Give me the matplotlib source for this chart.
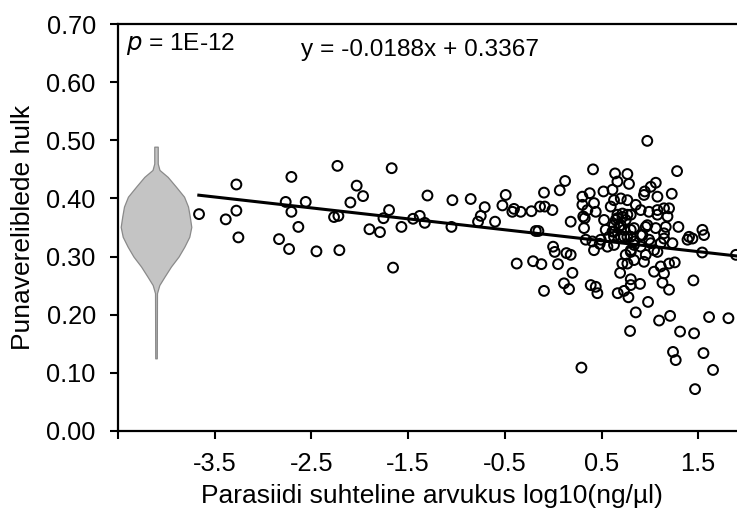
import matplotlib
matplotlib.use("Agg")
import matplotlib.pyplot as plt
import numpy as np

plt.rcParams['font.family'] = ['Liberation Sans', 'DejaVu Sans']

# ---- scatter data ----
x_vals = [-3.662, -3.386, -3.276, -3.276, -3.255, -2.835, -2.766, -2.707, -2.707, -2.731,
          -2.635, -2.559, -2.448, -2.266, -2.221, -2.231, -2.211, -2.097, -2.032, -1.966,
          -1.900, -1.791, -1.755, -1.697, -1.670, -1.656, -1.569, -1.449, -1.380, -1.328,
          -1.300, -1.052, -1.042, -0.853, -0.777, -0.749, -0.708, -0.601, -0.525, -0.491,
          -0.422, -0.405, -0.336, -0.225, -0.180, -0.153, -0.136, -0.095, -0.087, -0.008,
          0.068, 0.123, 0.181, -0.001, 0.016, 0.137, 0.181, -0.377, -0.208, -0.122,
          0.050, 0.199, 0.112, 0.164, -0.095, 0.388, 0.440, 0.457, 0.292, 0.667,
          0.733, 0.778, 0.802, 0.898, 0.854, 0.795, 0.981, 1.095, 1.209, 1.130,
          1.198, 1.450, 1.312, 1.457, 1.239, 1.267, 1.554, 1.653, 1.467, 1.612,
          1.812, 0.692, 0.802, 0.715, 0.767, 0.836, 0.939, 1.043, 1.112, 1.198,
          1.257, 1.146, 1.541, 1.890, 1.389, 1.440, 1.560, 0.905, 1.009, 1.078,
          0.957, 0.422, 0.337, 0.561, 0.629, 0.836, 0.750, 0.802, 1.233, 1.146,
          0.973, 0.412, 0.640, 0.767, 0.664, 0.784, 1.281, 0.378, 0.520, 0.613,
          1.061, 1.009, 0.947, 1.078, 1.226, 0.302, 0.422, 0.629, 0.699, 0.767,
          0.595, 0.854, 0.939, 1.146, 1.198, 0.354, 0.440, 0.326, 0.526, 0.664,
          0.716, 0.750, 0.802, 0.905, 0.991, 1.078, 1.182, 0.319, 0.543, 0.629,
          0.836, 0.974, 1.060, 1.164, 1.295, 1.405, 1.543, 0.699, 0.905, 0.406,
          0.481, 0.302, 0.664, 0.699, 0.767, 0.629, 0.733, 0.836, 0.802, 0.991,
          1.043, 1.112, 1.146, 0.957, 1.078, 0.311, 0.647, 0.681, 0.733, 0.613,
          0.578, 0.767, 0.802, 0.716, 0.802, 0.923, 0.492, 0.629]
y_vals = [0.373, 0.364, 0.424, 0.379, 0.333, 0.330, 0.394, 0.437, 0.377, 0.313,
          0.351, 0.394, 0.309, 0.368, 0.370, 0.456, 0.311, 0.393, 0.422, 0.404,
          0.347, 0.342, 0.366, 0.380, 0.452, 0.281, 0.351, 0.365, 0.370, 0.358,
          0.405, 0.351, 0.397, 0.399, 0.360, 0.370, 0.385, 0.360, 0.388, 0.406,
          0.377, 0.382, 0.377, 0.378, 0.344, 0.344, 0.386, 0.410, 0.386, 0.380,
          0.414, 0.430, 0.360, 0.317, 0.308, 0.306, 0.303, 0.288, 0.292, 0.287,
          0.287, 0.272, 0.254, 0.244, 0.241, 0.251, 0.248, 0.237, 0.109, 0.237,
          0.241, 0.230, 0.251, 0.253, 0.204, 0.172, 0.222, 0.190, 0.198, 0.255,
          0.243, 0.259, 0.171, 0.168, 0.136, 0.122, 0.134, 0.105, 0.072, 0.196,
          0.194, 0.272, 0.261, 0.288, 0.288, 0.294, 0.291, 0.274, 0.283, 0.288,
          0.290, 0.271, 0.307, 0.303, 0.329, 0.331, 0.337, 0.317, 0.323, 0.308,
          0.303, 0.311, 0.329, 0.317, 0.334, 0.320, 0.303, 0.308, 0.323, 0.331,
          0.499, 0.450, 0.443, 0.442, 0.429, 0.425, 0.447, 0.409, 0.412, 0.415,
          0.427, 0.420, 0.412, 0.403, 0.408, 0.389, 0.392, 0.397, 0.400, 0.397,
          0.386, 0.389, 0.406, 0.383, 0.383, 0.380, 0.377, 0.366, 0.363, 0.372,
          0.368, 0.363, 0.372, 0.380, 0.377, 0.372, 0.369, 0.349, 0.346, 0.354,
          0.349, 0.354, 0.349, 0.351, 0.351, 0.334, 0.346, 0.334, 0.337, 0.326,
          0.322, 0.403, 0.366, 0.354, 0.372, 0.343, 0.334, 0.326, 0.311, 0.329,
          0.311, 0.323, 0.340, 0.351, 0.380, 0.369, 0.363, 0.351, 0.346, 0.343,
          0.334, 0.334, 0.346, 0.374, 0.334, 0.337, 0.329, 0.320]

# ---- regression line ----
slope = -0.0188
intercept = 0.3367
line_x = [-3.68, 2.0]

# ---- violin profile (control group) ----
violin_center = -4.107
violin_y = [0.125, 0.237, 0.251, 0.265, 0.283, 0.300, 0.317, 0.334, 0.351,
            0.369, 0.386, 0.403, 0.420, 0.437, 0.449, 0.460, 0.489]
violin_hw = [0.008, 0.010, 0.034, 0.086, 0.155, 0.233, 0.293, 0.344, 0.365,
             0.349, 0.331, 0.290, 0.207, 0.121, 0.036, 0.018, 0.018]

x_ticks = [-4.5, -3.5, -2.5, -1.5, -0.5, 0.5, 1.5]
x_ticklabels = ['', '-3.5', '-2.5', '-1.5', '-0.5', '0.5', '1.5']
y_ticks = [0.0, 0.1, 0.2, 0.3, 0.4, 0.5, 0.6, 0.7]

W, H = 737, 513
fig = plt.figure(figsize=(W / 100, H / 100), dpi=100)
left_px, right_px, top_px, bottom_px = 118, 746.6, 24, 431
ax = fig.add_axes([left_px / W, (H - bottom_px) / H,
                   (right_px - left_px) / W, (bottom_px - top_px) / H])

# violin
vy = np.array(violin_y)
vh = np.array(violin_hw)
ax.fill_betweenx(vy, violin_center - vh, violin_center + vh,
                 facecolor='#c4c4c4', edgecolor='#8a8a8a', linewidth=0.9, zorder=2)

# scatter
ax.scatter(x_vals, y_vals, s=50, facecolors='none', edgecolors='black',
           linewidths=1.45, zorder=3)

# regression line
lx = np.array(line_x)
ax.plot(lx, slope * lx + intercept, color='black', linewidth=2.2, zorder=4,
        solid_capstyle='butt')

ax.set_xlim(-4.5, 2.0)
ax.set_ylim(0, 0.70)
ax.set_xticks(x_ticks)
ax.set_xticklabels(x_ticklabels)
ax.set_yticks(y_ticks)
ax.set_yticklabels([f'{v:.2f}' for v in y_ticks])
ax.tick_params(axis='both', direction='out', length=6, width=1.5, labelsize=18.3,
               colors='black')
ax.tick_params(axis='y', pad=10)
ax.tick_params(axis='x', pad=9)
for s in ['left', 'bottom', 'top']:
    ax.spines[s].set_linewidth(1.6)
ax.spines['right'].set_visible(False)

ax.text(0.013, 0.982, '$p$ = 1E-12', transform=ax.transAxes, fontsize=17.6,
        ha='left', va='top')
ax.text(-2.61, 0.655, 'y = -0.0188x + 0.3367', fontsize=17.6, ha='left',
        va='center')

ax.set_xlabel('Parasiidi suhteline arvukus log10(ng/µl)', fontsize=19, labelpad=6)
ax.set_ylabel('Punavereliblede hulk', fontsize=19, labelpad=8)

fig.savefig('out.png', dpi=100)
